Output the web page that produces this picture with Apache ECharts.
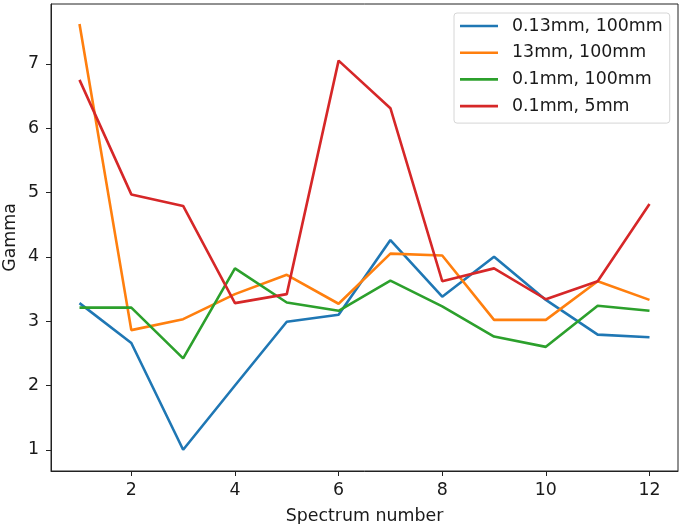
<!DOCTYPE html>
<html>
<head>
<meta charset="utf-8">
<script src="https://cdn.jsdelivr.net/npm/echarts@6.0.0/dist/echarts.min.js"></script>
<style>
  html, body { margin: 0; padding: 0; background: #fff; }
  #chart { width: 680px; height: 524px; }
</style>
</head>
<body>
<div id="chart"></div>
<script>
// spectrum numbers on the x axis
const spectra = [1, 2, 3, 4, 5, 6, 7, 8, 9, 10, 11, 12]
const xTicks = [2, 4, 6, 8, 10, 12]
const yTicks = [1, 2, 3, 4, 5, 6, 7]

const seriesNames = ['0.13mm, 100mm', '13mm, 100mm', '0.1mm, 100mm', '0.1mm, 5mm']
const gamma013_100 = [3.28, 2.66, 1.0, 2.0, 2.99, 3.1, 4.26, 3.38, 4.0, 3.33, 2.79, 2.75]
const gamma13_100 = [7.62, 2.86, 3.03, 3.42, 3.72, 3.27, 4.05, 4.02, 3.02, 3.02, 3.62, 3.33]
const gamma01_100 = [3.21, 3.21, 2.42, 3.82, 3.29, 3.16, 3.63, 3.23, 2.76, 2.6, 3.24, 3.16]
const gamma01_5 = [6.75, 4.97, 4.79, 3.28, 3.42, 7.05, 6.31, 3.62, 3.82, 3.34, 3.62, 4.82]
const colors = ['#1f77b4', '#ff7f0e', '#2ca02c', '#d62728']

const allValues = [gamma013_100, gamma13_100, gamma01_100, gamma01_5]

const font = 'DejaVu Sans'
const textColor = '#1a1a1a'

const chart = echarts.init(document.getElementById('chart'), null, { renderer: 'canvas' })

const series = []
for (let i = 0; i < seriesNames.length; i++) {
  series.push({
    name: seriesNames[i],
    type: 'line',
    showSymbol: false,
    symbol: 'none',
    lineStyle: { width: 2.6, color: colors[i] },
    itemStyle: { color: colors[i] },
    data: spectra.map((x, j) => [x, allValues[i][j]])
  })
}

chart.setOption({
  animation: false,
  backgroundColor: '#fff',
  textStyle: { fontFamily: font },
  grid: {
    left: 51,
    right: 2,
    top: 4,
    bottom: 53,
    outerBoundsMode: 'none',
    containLabel: false,
    show: true,
    borderColor: '#222',
    borderWidth: 1
  },
  legend: {
    orient: 'vertical',
    left: 454,
    top: 13,
    padding: [3, 7, 7, 6],
    itemGap: 6.7,
    itemWidth: 38,
    itemHeight: 2.6,
    icon: 'rect',
    backgroundColor: '#fff',
    borderColor: '#d6d6d6',
    borderWidth: 1,
    borderRadius: 3,
    data: seriesNames,
    textStyle: {
      fontFamily: font,
      fontSize: 17.4,
      lineHeight: 20,
      color: textColor,
      padding: [0, 0, 0, 9]
    }
  },
  xAxis: {
    type: 'value',
    min: 0.45,
    max: 12.55,
    name: 'Spectrum number',
    nameLocation: 'middle',
    nameGap: 37,
    nameMoveOverlap: false,
    nameTextStyle: { fontFamily: font, fontSize: 17.4, color: textColor },
    splitLine: { show: false },
    axisLine: { show: true, lineStyle: { color: '#222', width: 1 } },
    axisTick: { show: true, length: 5, lineStyle: { color: '#222' }, customValues: xTicks },
    axisLabel: { fontFamily: font, fontSize: 17.4, color: textColor, margin: 11, customValues: xTicks }
  },
  yAxis: {
    type: 'value',
    min: 0.67,
    max: 7.93,
    name: 'Gamma',
    nameLocation: 'middle',
    nameGap: 32,
    nameMoveOverlap: false,
    nameTextStyle: { fontFamily: font, fontSize: 17.4, color: textColor },
    splitLine: { show: false },
    axisLine: { show: true, lineStyle: { color: '#222', width: 1 } },
    axisTick: { show: true, length: 5, lineStyle: { color: '#222' }, customValues: yTicks },
    axisLabel: { fontFamily: font, fontSize: 17.4, color: textColor, margin: 12, customValues: yTicks }
  },
  series: series
})
</script>
</body>
</html>
